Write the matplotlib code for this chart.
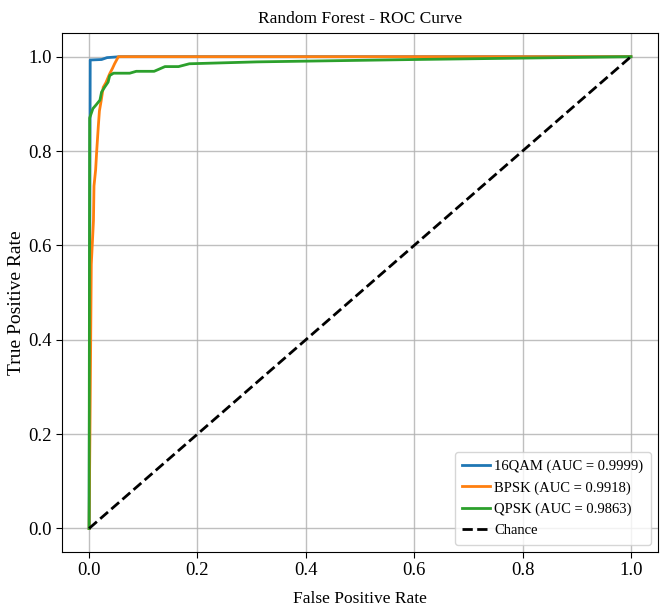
import matplotlib
matplotlib.use('Agg')
import matplotlib.pyplot as plt

# ROC points (false positive rate, true positive rate) per modulation class
qam16_fpr = [0.0, 0.002, 0.023, 0.033, 0.057, 1.0]
qam16_tpr = [0.0, 0.993, 0.994, 0.998, 1.0, 1.0]

bpsk_fpr = [0.0, 0.002, 0.004, 0.008, 0.009, 0.012, 0.014, 0.017, 0.019,
            0.022, 0.026, 0.031, 0.038, 0.043, 0.047, 0.054, 1.0]
bpsk_tpr = [0.0, 0.27, 0.56, 0.652, 0.726, 0.76, 0.80, 0.853, 0.885,
            0.905, 0.935, 0.945, 0.964, 0.975, 0.985, 1.0, 1.0]

qpsk_fpr = [0.0, 0.001, 0.007, 0.013, 0.02, 0.023, 0.029, 0.035, 0.038,
            0.045, 0.075, 0.087, 0.12, 0.14, 0.165, 0.185, 0.31, 0.6, 1.0]
qpsk_tpr = [0.0, 0.87, 0.89, 0.898, 0.908, 0.925, 0.936, 0.946, 0.96,
            0.965, 0.965, 0.969, 0.969, 0.979, 0.979, 0.985, 0.989, 0.994, 1.0]

labels = ['16QAM', 'BPSK', 'QPSK']
aucs = [0.9999, 0.9918, 0.9863]
colors = ['#1f77b4', '#ff7f0e', '#2ca02c']

plt.rcParams['font.family'] = ['Liberation Serif', 'DejaVu Serif']

fig = plt.figure(figsize=(6.67, 6.13), dpi=100)
ax = fig.add_axes([0.093, 0.0995, 0.8935, 0.8465])

curves = [(qam16_fpr, qam16_tpr), (bpsk_fpr, bpsk_tpr), (qpsk_fpr, qpsk_tpr)]
for (fpr, tpr), name, auc, c in zip(curves, labels, aucs, colors):
    ax.plot(fpr, tpr, color=c, lw=2, label=f'{name} (AUC = {auc:.4f})')
ax.plot([0, 1], [0, 1], 'k--', lw=2, label='Chance')

ax.set_xlim(-0.05, 1.05)
ax.set_ylim(-0.05, 1.05)
ax.set_xticks([0.0, 0.2, 0.4, 0.6, 0.8, 1.0])
ax.set_yticks([0.0, 0.2, 0.4, 0.6, 0.8, 1.0])
ax.tick_params(labelsize=13.5, length=4)
ax.grid(True, color='#b0b0b0', lw=1, alpha=0.8)
ax.set_title('Random Forest - ROC Curve', fontsize=12.5, pad=7)
ax.set_xlabel('False Positive Rate', fontsize=12.5, labelpad=8)
ax.set_ylabel('True Positive Rate', fontsize=14)
ax.yaxis.set_label_coords(-0.062, 0.48)
ax.legend(loc='lower right', fontsize=10.5, handlelength=1.9,
          handletextpad=0.3, borderpad=0.5, labelspacing=0.55,
          borderaxespad=0.5)

fig.savefig('out.png', dpi=100)
